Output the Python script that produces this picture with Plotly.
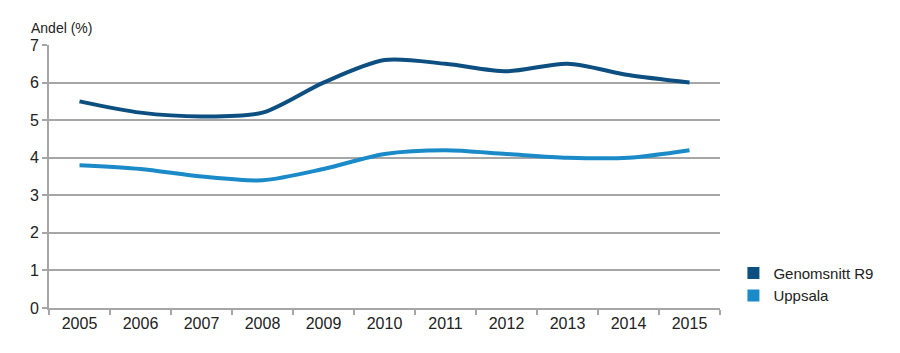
import plotly.graph_objects as go

years = ["2005","2006","2007","2008","2009","2010","2011","2012","2013","2014","2015"]
genomsnitt_r9 = [5.5, 5.2, 5.1, 5.2, 6.0, 6.6, 6.5, 6.3, 6.5, 6.2, 6.0]
uppsala = [3.8, 3.7, 3.5, 3.4, 3.7, 4.1, 4.2, 4.1, 4.0, 4.0, 4.2]
y_ticks = [0, 1, 2, 3, 4, 5, 6, 7]

dark = "#0d4f80"
light = "#1a8ac8"
font = "Liberation Sans"

fig = go.Figure()
for name, vals, col in [("Genomsnitt R9", genomsnitt_r9, dark), ("Uppsala", uppsala, light)]:
    fig.add_trace(go.Scatter(x=years, y=vals, mode="lines", line=dict(color=col, width=4, shape="spline", smoothing=0.8),
                             showlegend=False, hoverinfo="skip"))
for name, col in [("Genomsnitt R9", dark), ("Uppsala", light)]:
    fig.add_trace(go.Scatter(x=[None], y=[None], mode="markers", name=name,
                             marker=dict(symbol="square", size=14, color=col)))

fig.update_layout(
    width=900, height=353,
    margin=dict(l=49, r=180, t=45, b=45),
    paper_bgcolor="white", plot_bgcolor="white",
    font=dict(family=font, size=16, color="#222"),
    legend=dict(x=1.02, y=0.09, xanchor="left", yanchor="middle", font=dict(size=15),
                itemsizing="constant", tracegroupgap=2),
    xaxis=dict(type="category", showgrid=False, showline=True, linecolor="#a6a6a6", linewidth=2,
               ticks="outside", tickson="boundaries", ticklen=5, tickcolor="#a6a6a6", tickwidth=2,
               tickfont=dict(size=16), range=[-0.5, 10.5]),
    yaxis=dict(range=[0, 7], tickvals=y_ticks, showgrid=True, gridcolor="#a6a6a6", gridwidth=2,
               showline=True, linecolor="#a6a6a6", linewidth=2, ticks="outside", ticklen=5,
               tickcolor="#a6a6a6", tickwidth=2, tickfont=dict(size=16), zeroline=False),
    annotations=[dict(text="Andel (%)", x=0, y=1, xref="paper", yref="paper", xshift=-20, yshift=7,
                      xanchor="left", yanchor="bottom", showarrow=False, font=dict(size=14))],
)
fig.write_html("out.html")
